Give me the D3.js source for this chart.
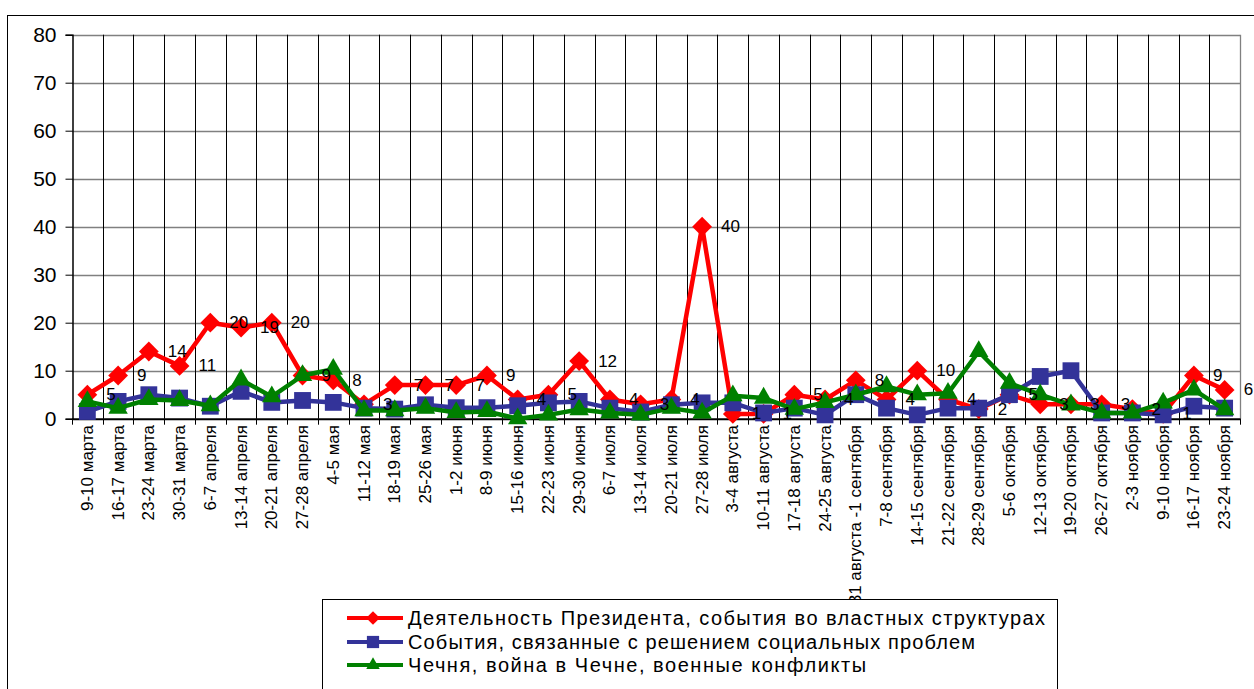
<!DOCTYPE html>
<html>
<head>
<meta charset="utf-8">
<script src="https://cdn.jsdelivr.net/npm/d3@7"></script>
<style>
  html, body { margin: 0; padding: 0; background: #fff; }
  svg { display: block; }
  text { font-family: "Liberation Sans", Arial, sans-serif; }
</style>
</head>
<body>
<svg id="chart" width="1254" height="689"></svg>
<script>
// Weekly share of news topics, March – November
const categories = [
  "9-10 марта", "16-17 марта", "23-24 марта", "30-31 марта", "6-7 апреля",
  "13-14 апреля", "20-21 апреля", "27-28 апреля", "4-5 мая", "11-12 мая",
  "18-19 мая", "25-26 мая", "1-2 июня", "8-9 июня", "15-16 июня",
  "22-23 июня", "29-30 июня", "6-7 июля", "13-14 июля", "20-21 июля",
  "27-28 июля", "3-4 августа", "10-11 августа", "17-18 августа", "24-25 августа",
  "31 августа -1 сентября", "7-8 сентября", "14-15 сентября", "21-22 сентября", "28-29 сентября",
  "5-6 октября", "12-13 октября", "19-20 октября", "26-27 октября", "2-3 ноября",
  "9-10 ноября", "16-17 ноября", "23-24 ноября"
];

const president = [5, 9, 14, 11, 20, 19, 20, 9, 8, 3, 7, 7, 7, 9, 4, 5, 12, 4, 3, 4,
                   40, 1, 1, 5, 4, 8, 4, 10, 4, 2, 5, 3, 3, 3, 2, 1, 9, 6];

const social = [1.5, 3.6, 5, 4.3, 2.6, 5.7, 3.4, 3.8, 3.4, 2.2, 2, 2.9, 2.3, 2.3, 2.7, 3.3, 3.6, 2.2, 1.4, 2.9,
                3.3, 3.3, 1.2, 2.2, 0.8, 5, 2.2, 0.8, 2.2, 2.2, 5, 8.8, 10, 1.2, 1.2, 0.8, 2.6, 2.2];

const chechnya = [3.6, 2.2, 4, 3.8, 2.7, 8.1, 4.6, 9, 10.3, 1.7, 1.7, 2.2, 1.3, 1.5, 0, 0.8, 1.9, 1.2, 0.8, 2.2,
                  1.2, 4.8, 4.3, 2, 3.4, 5, 6.7, 5, 5.3, 14, 7.4, 5, 2.9, 1.2, 1.2, 3.3, 6, 1.9];

const yTicks = [0, 10, 20, 30, 40, 50, 60, 70, 80];

const seriesNames = [
  "Деятельность Президента, события во властных структурах",
  "События, связанные с  решением социальных проблем",
  "Чечня, война в Чечне, военные конфликты"
];

const series = [
  { name: seriesNames[0], values: president, color: "#FF0000", symbol: d3.symbolDiamond2,  size: 250, legendSize: 120, legendWidth: 637 },
  { name: seriesNames[1], values: social,    color: "#333399", symbol: d3.symbolSquare2,   size: 360, legendSize: 190, legendWidth: 567 },
  { name: seriesNames[2], values: chechnya,  color: "#008000", symbol: d3.symbolTriangle2, size: 270, legendSize: 130, legendWidth: 458 }
];

const svg = d3.select("#chart");

// outer chart frame
svg.append("rect")
  .attr("x", 7.5).attr("y", 15.5)
  .attr("width", 1260).attr("height", 700)
  .attr("fill", "none").attr("stroke", "#000").attr("stroke-width", 1);

const plot = { left: 72, right: 1240, top: 34.7, bottom: 418.7 };

const x = d3.scaleBand().domain(categories).range([plot.left, plot.right]).paddingInner(0).paddingOuter(0);
const y = d3.scaleLinear().domain([0, 80]).range([plot.bottom, plot.top]);
const cx = d => x(d) + x.bandwidth() / 2;

// horizontal grid
svg.append("g")
  .selectAll("line").data(yTicks.filter(t => t > 0)).join("line")
  .attr("x1", plot.left).attr("x2", plot.right)
  .attr("y1", d => Math.round(y(d)) + 0.5).attr("y2", d => Math.round(y(d)) + 0.5)
  .attr("stroke", "#808080").attr("stroke-width", 1.3);

// vertical grid at category boundaries
const bounds = categories.map(c => x(c)).slice(1);
svg.append("g")
  .selectAll("line").data(bounds).join("line")
  .attr("x1", d => Math.round(d) + 0.5).attr("x2", d => Math.round(d) + 0.5)
  .attr("y1", plot.top).attr("y2", plot.bottom)
  .attr("stroke", "#000").attr("stroke-width", 1);

// right edge of plot
svg.append("line")
  .attr("x1", plot.right + 0.5).attr("x2", plot.right + 0.5)
  .attr("y1", plot.top).attr("y2", plot.bottom)
  .attr("stroke", "#808080").attr("stroke-width", 1.3);

// y axis
const yAxis = d3.axisLeft(y).tickValues(yTicks).tickSize(7).tickPadding(9).tickFormat(d3.format("d"));
const gy = svg.append("g").attr("transform", `translate(${plot.left + 0.5},0)`).call(yAxis);
gy.select(".domain").attr("stroke", "#000").attr("stroke-width", 1.5);
gy.selectAll(".tick line").attr("stroke", "#000");
gy.selectAll(".tick text").attr("font-size", 21).attr("fill", "#000")
  .style("font-family", "'Liberation Sans', Arial, sans-serif");

// x axis
const xAxis = d3.axisBottom(x).tickSize(0).tickFormat("");
const gx = svg.append("g").attr("transform", `translate(0,${plot.bottom})`).call(xAxis);
gx.select(".domain").attr("stroke", "#000").attr("stroke-width", 2);
gx.append("g").selectAll("line").data(categories.map(c => x(c)).concat([plot.right])).join("line")
  .attr("x1", d => Math.round(d) + 0.5).attr("x2", d => Math.round(d) + 0.5)
  .attr("y1", 0).attr("y2", 6).attr("stroke", "#000");

svg.append("g").selectAll("text").data(categories).join("text")
  .attr("transform", d => `translate(${cx(d)},425) rotate(-90)`)
  .attr("text-anchor", "end")
  .attr("dominant-baseline", "central")
  .attr("font-size", 17)
  .attr("fill", "#000")
  .text(d => d);

// series lines and markers
const line = d3.line().x((v, i) => cx(categories[i])).y(v => y(v));
series.forEach(s => {
  const g = svg.append("g");
  g.append("path").datum(s.values)
    .attr("d", line).attr("fill", "none")
    .attr("stroke", s.color).attr("stroke-width", 4.5).attr("stroke-linejoin", "round");
  g.selectAll("path.m").data(s.values).join("path")
    .attr("class", "m")
    .attr("d", d3.symbol().type(s.symbol).size(s.size))
    .attr("transform", (v, i) => `translate(${cx(categories[i])},${y(v)})`)
    .attr("fill", s.color);
});

// value labels of the first series
svg.append("g").selectAll("text").data(president).join("text")
  .attr("x", (v, i) => cx(categories[i]) + 19)
  .attr("y", v => y(v))
  .attr("dominant-baseline", "central")
  .attr("font-size", 17)
  .attr("fill", "#000")
  .text(v => v);

// legend
const legend = svg.append("g");
legend.append("rect")
  .attr("x", 322.5).attr("y", 599.5).attr("width", 735).attr("height", 100)
  .attr("fill", "#fff").attr("stroke", "#000").attr("stroke-width", 1);
const rowsY = [618, 642, 665];
series.forEach((s, i) => {
  const ly = rowsY[i];
  legend.append("line").attr("x1", 347).attr("x2", 403).attr("y1", ly).attr("y2", ly)
    .attr("stroke", s.color).attr("stroke-width", 4);
  legend.append("path")
    .attr("d", d3.symbol().type(s.symbol).size(s.legendSize))
    .attr("transform", `translate(373,${ly})`)
    .attr("fill", s.color);
  legend.append("text")
    .attr("x", 408).attr("y", ly)
    .attr("dominant-baseline", "central")
    .attr("font-size", 20)
    .attr("textLength", s.legendWidth)
    .attr("lengthAdjust", "spacing")
    .attr("fill", "#000")
    .text(s.name);
});
</script>
</body>
</html>
